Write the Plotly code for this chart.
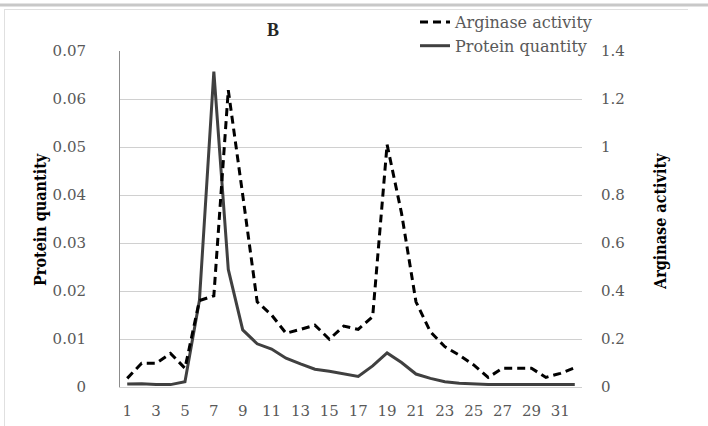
import plotly.graph_objects as go

fractions = list(range(1, 33))
arginase_activity = [0.036, 0.099, 0.099, 0.14, 0.078, 0.36, 0.38, 1.237, 0.80, 0.355,
                     0.30, 0.224, 0.24, 0.258, 0.199, 0.254, 0.24, 0.293, 1.010, 0.724,
                     0.355, 0.23, 0.168, 0.133, 0.092, 0.04, 0.078, 0.078, 0.078, 0.04,
                     0.057, 0.08]
protein_quantity = [0.0006, 0.0007, 0.0005, 0.0005, 0.0011, 0.018, 0.0657, 0.0245, 0.0119, 0.009,
                    0.0079, 0.006, 0.0048, 0.0037, 0.0033, 0.0028, 0.0022, 0.0044, 0.0071, 0.0051,
                    0.0027, 0.0018, 0.0011, 0.0008, 0.0006, 0.0005, 0.0005, 0.0005, 0.0006, 0.0005,
                    0.0005, 0.0005]
x_tick_vals = list(range(1, 33, 2))
left_ticks = [0, 0.01, 0.02, 0.03, 0.04, 0.05, 0.06, 0.07]
left_tick_text = ["0", "0.01", "0.02", "0.03", "0.04", "0.05", "0.06", "0.07"]
right_ticks = [0, 0.2, 0.4, 0.6, 0.8, 1.0, 1.2, 1.4]
right_tick_text = ["0", "0.2", "0.4", "0.6", "0.8", "1", "1.2", "1.4"]

W, H = 708, 426
L, R, T, B = 120, 582, 51, 387

def px(xp):
    return (xp - L) / (R - L)

def py(yp):
    return (B - yp) / (B - T)

tickfont = "DejaVu Serif"
grey = "#595959"

fig = go.Figure()
fig.add_trace(go.Scatter(x=fractions, y=arginase_activity, name="Arginase activity",
                         mode="lines", yaxis="y2",
                         line=dict(color="#000000", width=3, dash="8px,5px")))
fig.add_trace(go.Scatter(x=fractions, y=protein_quantity, name="Protein quantity",
                         mode="lines", yaxis="y",
                         line=dict(color="#404040", width=3)))

fig.update_layout(
    width=W, height=H,
    margin=dict(l=L, r=W - R, t=T, b=H - B, pad=0, autoexpand=False),
    paper_bgcolor="white", plot_bgcolor="white",
    showlegend=True,
    legend=dict(x=px(415), y=py(5), xanchor="left", yanchor="top",
                font=dict(family=tickfont, size=16, color="#595959"),
                bgcolor="rgba(0,0,0,0)", tracegroupgap=0, itemwidth=30),
    xaxis=dict(range=[0.5, 32.5], tickvals=x_tick_vals, ticktext=[str(v) for v in x_tick_vals],
               showgrid=False, showline=True, linecolor="#d0d0d0", linewidth=1,
               ticks="", ticklabelstandoff=10,
               tickfont=dict(family=tickfont, size=15, color=grey), zeroline=False),
    yaxis=dict(range=[0, 0.07], tickvals=left_ticks, ticktext=left_tick_text,
               showgrid=True, gridcolor="#d0d0d0", gridwidth=1,
               showline=True, linecolor="#8c8c8c", linewidth=1,
               ticks="", ticklabelstandoff=30, zeroline=False,
               tickfont=dict(family=tickfont, size=15, color=grey)),
    yaxis2=dict(range=[0, 1.4], tickvals=right_ticks, ticktext=right_tick_text,
                overlaying="y", side="right", showgrid=False, showline=False,
                ticks="", ticklabelstandoff=18, zeroline=False,
                tickfont=dict(family=tickfont, size=15, color=grey)),
    annotations=[
        dict(text="<b>B</b>", x=px(273), y=py(30), xref="paper", yref="paper",
             xanchor="center", yanchor="middle",
             showarrow=False, font=dict(family="Liberation Serif", size=18, color="#262626")),
        dict(text="<b>Protein quantity</b>", x=px(40), y=py(220), xref="paper", yref="paper",
             xanchor="center", yanchor="middle",
             showarrow=False, textangle=-90,
             font=dict(family="DejaVu Serif Condensed", size=16, color="#000000")),
        dict(text="<b>Arginase activity</b>", x=px(660), y=py(222), xref="paper", yref="paper",
             xanchor="center", yanchor="middle",
             showarrow=False, textangle=-90,
             font=dict(family="DejaVu Serif Condensed", size=16, color="#000000")),
    ],
    shapes=[
        dict(type="line", xref="paper", yref="paper", x0=px(0), x1=px(708), y0=py(5), y1=py(5),
             line=dict(color="#c8c8c8", width=3)),
        dict(type="line", xref="paper", yref="paper", x0=px(4), x1=px(688), y0=py(9.5), y1=py(9.5),
             line=dict(color="#e0e0e0", width=1)),
        dict(type="line", xref="paper", yref="paper", x0=px(4.5), x1=px(4.5), y0=py(9.5), y1=py(426),
             line=dict(color="#e0e0e0", width=1)),
        dict(type="rect", xref="paper", yref="paper", x0=px(457), x1=px(582.5), y0=py(48), y1=py(54),
             fillcolor="white", line=dict(width=0), layer="above"),
    ],
)

fig.write_html("out.html", config={"displayModeBar": False},
               post_script="document.body.style.margin='0';document.body.style.overflow='hidden';")
